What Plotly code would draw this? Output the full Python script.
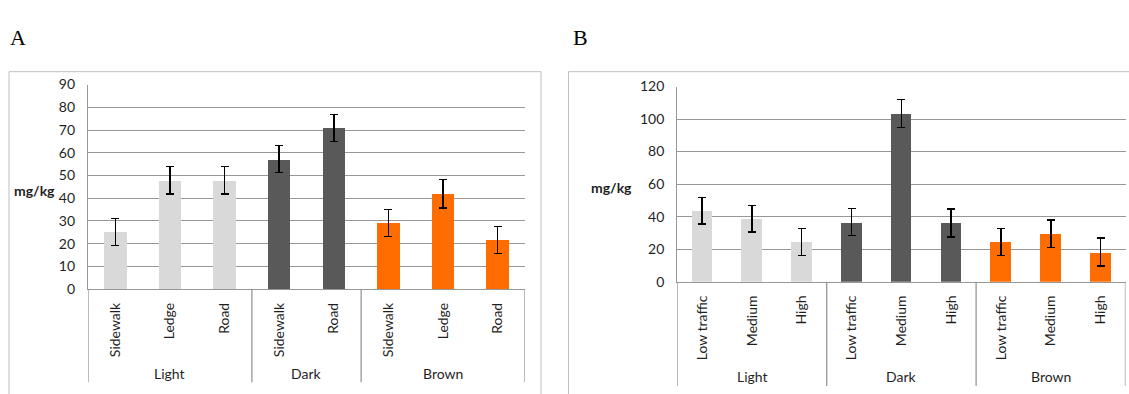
import plotly.graph_objects as go

W, H = 1129, 394

# ---------------- data ----------------
a_groups = ["Light", "Light", "Light", "Dark", "Dark", "Brown", "Brown", "Brown"]
a_labels = ["Sidewalk", "Ledge", "Road", "Sidewalk", "Road", "Sidewalk", "Ledge", "Road"]
a_values = [25.1, 47.9, 47.9, 57.2, 70.9, 29.1, 41.9, 21.6]
a_errors = [5.9, 6.0, 6.0, 5.9, 5.9, 6.0, 6.2, 6.0]

b_groups = ["Light", "Light", "Light", "Dark", "Dark", "Dark", "Brown", "Brown", "Brown"]
b_labels = ["Low traffic", "Medium", "High", "Low traffic", "Medium", "High", "Low traffic", "Medium", "High"]
b_values = [43.7, 38.8, 24.5, 36.7, 103.5, 36.1, 24.5, 29.4, 18.2]
b_errors = [8.2, 8.2, 8.3, 8.2, 8.6, 8.6, 8.3, 8.5, 8.6]

group_colors = {"Light": "#d9d9d9", "Dark": "#595959", "Brown": "#ff6d00"}

FONT = "Lato"
GRID = "#979797"
TXT = "#1f1f1f"


def px(x):
    return x / W


def py(y):
    return 1 - y / H


fig = go.Figure()

for groups, labels, values, errors, xa, ya in [
    (a_groups, a_labels, a_values, a_errors, "x", "y"),
    (b_groups, b_labels, b_values, b_errors, "x2", "y2"),
]:
    fig.add_trace(go.Bar(
        x=list(range(len(values))), y=values,
        marker=dict(color=[group_colors[g] for g in groups], line=dict(width=0)),
        width=0.41,
        error_y=dict(type="data", array=errors, visible=True, color="#000000", thickness=1.4, width=4),
        xaxis=xa, yaxis=ya, showlegend=False,
    ))

common_y = dict(showgrid=True, gridcolor=GRID, gridwidth=1.3, showline=True, linecolor=GRID, linewidth=1.3,
                zeroline=False, ticks="", tickfont=dict(family=FONT, size=14, color=TXT),
                ticklabelstandoff=9, fixedrange=True)
common_x = dict(showgrid=False, showline=True, linecolor=GRID, linewidth=1.3, zeroline=False, ticks="",
                tickangle=-90, tickfont=dict(family=FONT, size=14, color=TXT), ticklabelstandoff=7,
                tickmode="array")

fig.update_layout(
    width=W, height=H, margin=dict(l=0, r=0, t=0, b=0),
    paper_bgcolor="white", plot_bgcolor="white",
    bargap=0,
    xaxis=dict(domain=[px(88), px(525)], range=[-0.5, len(a_values) - 0.5], anchor="y",
               tickvals=list(range(len(a_labels))), ticktext=a_labels, **common_x),
    yaxis=dict(domain=[py(292.7), py(79)], range=[0, 90], dtick=10, anchor="x", **common_y),
    xaxis2=dict(domain=[px(677.3), px(1125.5)], range=[-0.5, len(b_values) - 0.5], anchor="y2",
                tickvals=list(range(len(b_labels))), ticktext=b_labels, **common_x),
    yaxis2=dict(domain=[py(285), py(81)], range=[0, 120], dtick=20, anchor="x2", **common_y),
)

shapes = []
annotations = []

# outer boxes
shapes.append(dict(type="rect", xref="paper", yref="paper", x0=px(9), x1=px(541), y0=py(410), y1=py(65.5),
                   line=dict(color="#bfbfbf", width=1)))
shapes.append(dict(type="rect", xref="paper", yref="paper", x0=px(568.5), x1=px(1140), y0=py(410), y1=py(65.5),
                   line=dict(color="#bfbfbf", width=1)))


def group_spans(groups):
    spans = []
    start = 0
    for i in range(1, len(groups) + 1):
        if i == len(groups) or groups[i] != groups[start]:
            spans.append((groups[start], start, i - 1))
            start = i
    return spans


for groups, xref, y_axis_px, y_bottom_px, lab_y in [
    (a_groups, "x", 292.7, 390, 380.7),
    (b_groups, "x2", 285, 394, 384.3),
]:
    spans = group_spans(groups)
    bounds = [spans[0][1] - 0.5] + [s[2] + 0.5 for s in spans]
    for b in bounds:
        shapes.append(dict(type="line", xref=xref, yref="paper", x0=b, x1=b, y0=py(y_axis_px), y1=py(y_bottom_px),
                           line=dict(color=GRID, width=1.3)))
    for name, s, e in spans:
        annotations.append(dict(text=name, xref=xref, yref="paper", x=(s + e) / 2, y=py(lab_y),
                                showarrow=False, xanchor="center", yanchor="middle",
                                font=dict(family=FONT, size=14, color=TXT)))

# y-axis titles
annotations.append(dict(text="<b>mg/kg</b>", xref="paper", yref="paper", x=px(34.5), y=py(189.3),
                        showarrow=False, xanchor="center", yanchor="middle",
                        font=dict(family=FONT, size=14, color=TXT)))
annotations.append(dict(text="<b>mg/kg</b>", xref="paper", yref="paper", x=px(611.7), y=py(186.7),
                        showarrow=False, xanchor="center", yanchor="middle",
                        font=dict(family=FONT, size=14, color=TXT)))

# panel letters
annotations.append(dict(text="A", xref="paper", yref="paper", x=px(7.5), y=py(29.5),
                        showarrow=False, xanchor="left", yanchor="middle",
                        font=dict(family="Liberation Serif", size=22, color="#000000")))
annotations.append(dict(text="B", xref="paper", yref="paper", x=px(570.5), y=py(29.5),
                        showarrow=False, xanchor="left", yanchor="middle",
                        font=dict(family="Liberation Serif", size=22, color="#000000")))

fig.update_layout(shapes=shapes, annotations=annotations)

fig.write_html("out.html")
